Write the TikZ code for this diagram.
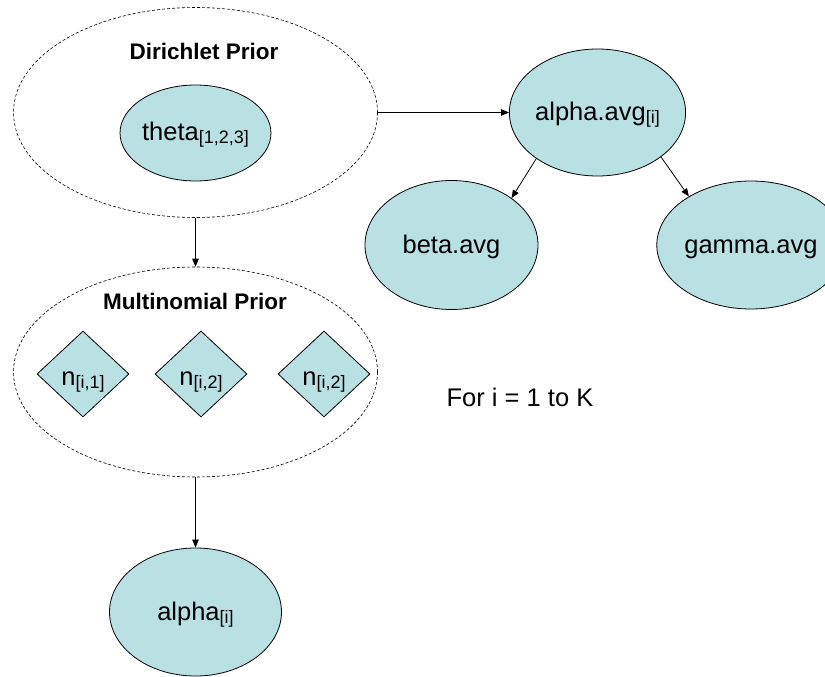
\documentclass[tikz,border=0pt]{standalone}
\usepackage{fontspec}
\setmainfont{Liberation Sans}
\usetikzlibrary{shapes.geometric,arrows.meta}
\definecolor{nodefill}{RGB}{185,224,227}
\newcommand{\subtxt}[1]{\raisebox{-3pt}{\fontsize{18}{18}\selectfont #1}}
\begin{document}
\begin{tikzpicture}[x=1pt,y=-1pt,
  fillell/.style={ellipse, draw=black, fill=nodefill, line width=0.8pt, inner sep=0pt,
                  font=\fontsize{25.5}{30}\selectfont, text height=19pt, text depth=3pt},
  plate/.style={ellipse, draw=black, dash pattern=on 3pt off 2pt, line width=0.6pt, inner sep=0pt},
  dia/.style={diamond, draw=black, fill=nodefill, line width=0.8pt, inner sep=0pt,
              minimum width=92pt, minimum height=86pt, font=\fontsize{25.5}{30}\selectfont,
              text height=22pt, text depth=0pt},
  lbl/.style={font=\fontsize{25.5}{30}\selectfont, inner sep=0pt},
  title/.style={font=\bfseries\fontsize{22.5}{27}\selectfont, inner sep=0pt},
  conn/.style={-{Triangle[length=8pt,width=6.5pt]}, line width=0.8pt}]
\useasboundingbox (0,0) rectangle (825,677);
\clip (0,0) rectangle (825,677);

% plates
\node[plate, minimum width=364pt, minimum height=210pt] (dir) at (195.5,112.5) {};
\node[title] (dirt) at (204,51) {Dirichlet Prior};
\node[fillell, minimum width=125pt, minimum height=96pt, text height=18pt, text depth=4pt] (theta) at (195.5,133) {theta\subtxt{[1,2,3]}};

\node[plate, minimum width=364pt, minimum height=210pt] (mult) at (195.5,372) {};
\node[title] (multt) at (195,301) {Multinomial Prior};
\node[dia] (n1) at (83,374) {n\subtxt{[i,1]}};
\node[dia] (n2) at (201,374) {n\subtxt{[i,2]}};
\node[dia] (n3) at (324,374) {n\subtxt{[i,2]}};

\node[fillell, minimum width=172pt, minimum height=128pt] (alphai) at (195.5,612) {alpha\subtxt{[i]}};

\node[fillell, minimum width=171pt, minimum height=127pt] (aavg) at (597.5,112.5) {alpha.avg\subtxt{[i]}};
\node[fillell, minimum width=173pt, minimum height=129pt] (beta) at (451.5,245) {beta.avg};
\node[fillell, minimum width=172pt, minimum height=128pt] (gamma) at (751,245) {gamma.avg};

\node[lbl] (fortxt) at (520,397) {For i = 1 to K};

% connectors
\draw[conn] (dir.south) -- (mult.north);
\draw[conn] (mult.south) -- (alphai.north);
\draw[conn] (dir.east) -- (aavg.west);
\draw[conn] (aavg.217) -- (beta.38);
\draw[conn] (aavg.-35) -- (gamma.142);
\end{tikzpicture}
\end{document}
